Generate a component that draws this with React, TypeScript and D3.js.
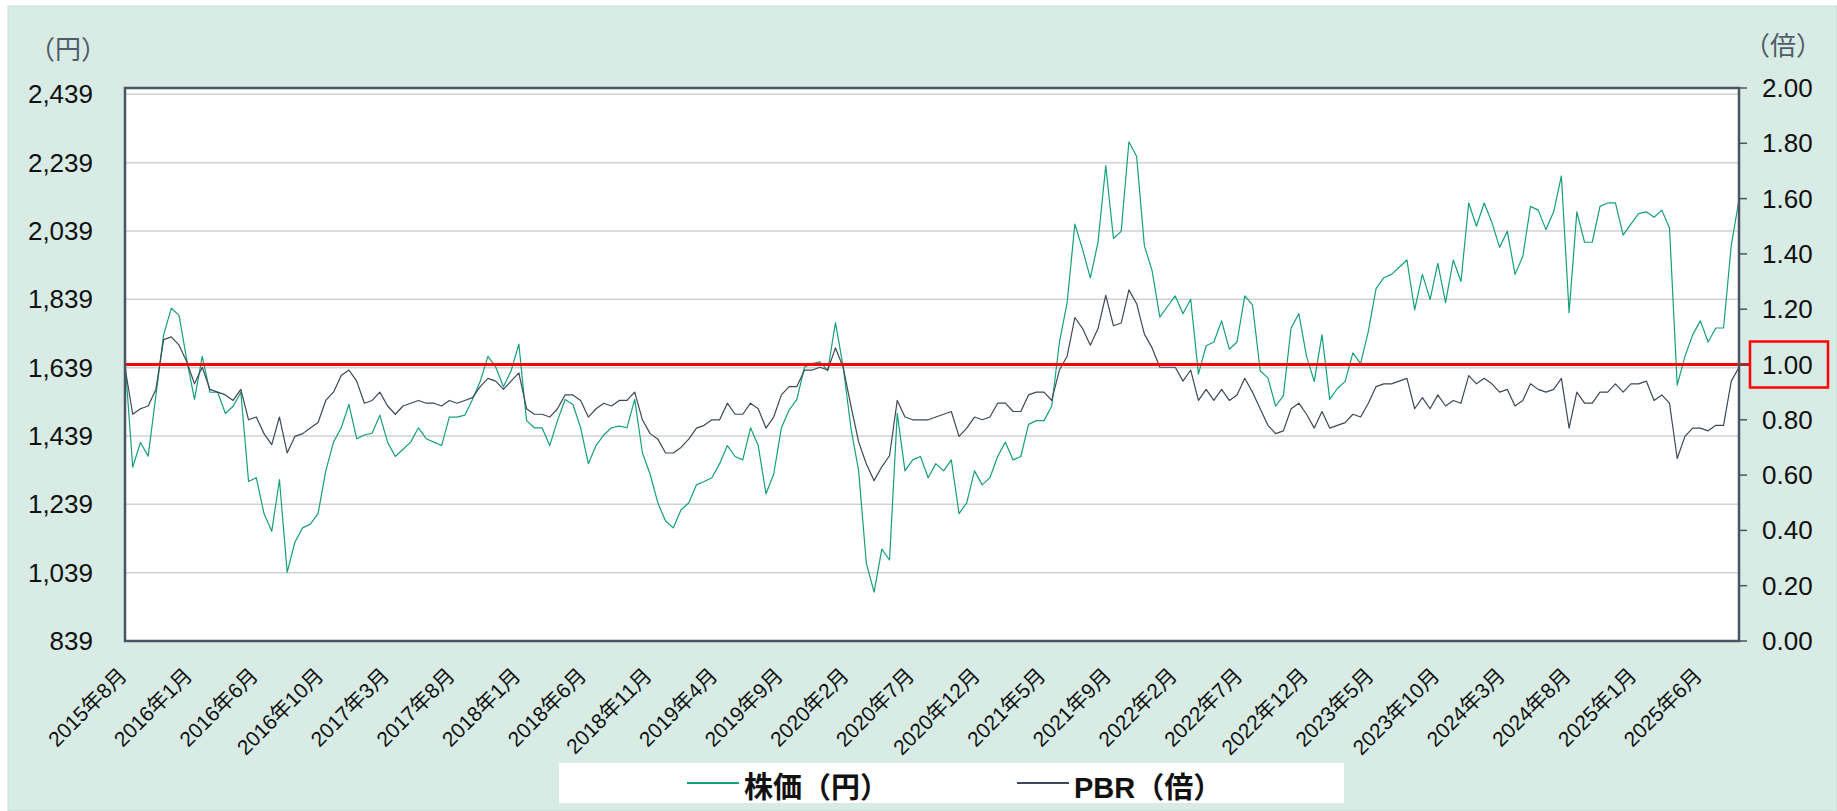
import React, { useEffect, useRef } from "react";
import * as d3 from "d3";

// 12営業日ごとのサンプル（2015年8月〜2025年10月）
const DAY_STEP = 12;
const LABEL_EVERY = 102;

const xLabels = [
  "2015年8月", "2016年1月", "2016年6月", "2016年10月", "2017年3月", "2017年8月",
  "2018年1月", "2018年6月", "2018年11月", "2019年4月", "2019年9月", "2020年2月",
  "2020年7月", "2020年12月", "2021年5月", "2021年9月", "2022年2月", "2022年7月",
  "2022年12月", "2023年5月", "2023年10月", "2024年3月", "2024年8月", "2025年1月",
  "2025年6月",
];

// 株価（円）
const price = [
  1660, 1348, 1420, 1380, 1557, 1735, 1813, 1792, 1661, 1546,
  1672, 1567, 1567, 1505, 1526, 1567, 1306, 1317, 1212, 1160,
  1311, 1040, 1128, 1170, 1181, 1212, 1337, 1421, 1463, 1531,
  1431, 1442, 1447, 1500, 1421, 1379, 1400, 1421, 1463, 1431,
  1421, 1411, 1494, 1494, 1500, 1546, 1599, 1672, 1641, 1583,
  1630, 1708, 1484, 1463, 1463, 1411, 1484, 1546, 1531, 1463,
  1358, 1411, 1442, 1463, 1468, 1463, 1546, 1390, 1327, 1243,
  1190, 1170, 1223, 1243, 1296, 1306, 1317, 1358, 1411, 1379,
  1369, 1463, 1411, 1270, 1327, 1463, 1515, 1546, 1641, 1651,
  1656, 1630, 1771, 1641, 1463, 1337, 1066, 982, 1108, 1076,
  1505, 1337, 1369, 1379, 1317, 1358, 1337, 1369, 1212, 1243,
  1337, 1296, 1317, 1379, 1421, 1369, 1379, 1473, 1484, 1484,
  1526, 1714, 1829, 2059, 1985, 1902, 2006, 2230, 2017, 2038,
  2300, 2257, 1996, 1923, 1787, 1818, 1849, 1797, 1839, 1620,
  1703, 1714, 1776, 1693, 1714, 1849, 1823, 1630, 1609, 1526,
  1557, 1755, 1797, 1672, 1599, 1735, 1546, 1578, 1599, 1682,
  1651, 1745, 1870, 1902, 1912, 1933, 1954, 1808, 1912, 1839,
  1944, 1829, 1954, 1891, 2121, 2053, 2121, 2064, 1991, 2038,
  1912, 1964, 2111, 2100, 2043, 2095, 2200, 1800, 2095, 2006,
  2006, 2111, 2121, 2121, 2027, 2059, 2090, 2095, 2079, 2100,
  2048, 1588, 1672, 1735, 1776, 1714, 1755, 1755, 1997, 2130,
];

// PBR（倍）
const pbr = [
  0.99, 0.82, 0.84, 0.85, 0.91, 1.09, 1.10, 1.07, 1.01, 0.93,
  0.99, 0.91, 0.90, 0.89, 0.87, 0.91, 0.80, 0.81, 0.75, 0.71,
  0.81, 0.68, 0.74, 0.75, 0.77, 0.79, 0.87, 0.90, 0.96, 0.98,
  0.94, 0.86, 0.87, 0.90, 0.85, 0.82, 0.85, 0.86, 0.87, 0.86,
  0.86, 0.85, 0.87, 0.86, 0.87, 0.88, 0.92, 0.95, 0.94, 0.91,
  0.94, 0.97, 0.84, 0.82, 0.82, 0.81, 0.84, 0.89, 0.89, 0.87,
  0.81, 0.84, 0.86, 0.85, 0.87, 0.87, 0.90, 0.80, 0.75, 0.73,
  0.68, 0.68, 0.70, 0.73, 0.77, 0.78, 0.80, 0.80, 0.86, 0.82,
  0.82, 0.86, 0.84, 0.77, 0.81, 0.89, 0.92, 0.92, 0.98, 0.98,
  0.99, 0.98, 1.06, 0.99, 0.85, 0.72, 0.64, 0.58, 0.63, 0.67,
  0.87, 0.81, 0.80, 0.80, 0.80, 0.81, 0.82, 0.83, 0.74, 0.77,
  0.81, 0.80, 0.81, 0.86, 0.86, 0.83, 0.83, 0.89, 0.90, 0.90,
  0.87, 0.98, 1.03, 1.17, 1.13, 1.07, 1.13, 1.25, 1.14, 1.15,
  1.27, 1.22, 1.11, 1.06, 0.99, 0.99, 0.99, 0.94, 0.98, 0.87,
  0.91, 0.87, 0.91, 0.87, 0.89, 0.95, 0.90, 0.84, 0.78, 0.75,
  0.76, 0.84, 0.86, 0.82, 0.77, 0.83, 0.77, 0.78, 0.79, 0.82,
  0.81, 0.86, 0.92, 0.93, 0.93, 0.94, 0.95, 0.84, 0.88, 0.84,
  0.89, 0.85, 0.87, 0.86, 0.96, 0.93, 0.95, 0.93, 0.90, 0.91,
  0.85, 0.87, 0.93, 0.91, 0.90, 0.91, 0.95, 0.77, 0.90, 0.86,
  0.86, 0.90, 0.90, 0.93, 0.90, 0.93, 0.93, 0.94, 0.87, 0.89,
  0.86, 0.66, 0.74, 0.77, 0.77, 0.76, 0.78, 0.78, 0.94, 0.99,
];

const yenTicks = [839, 1039, 1239, 1439, 1639, 1839, 2039, 2239, 2439];
const pbrTicks = [0, 0.2, 0.4, 0.6, 0.8, 1.0, 1.2, 1.4, 1.6, 1.8, 2.0];
const pbrMarker = 1.0;

const W = 1837;
const H = 811;
const FONT = "'Liberation Sans', Arial, 'Noto Sans CJK JP', sans-serif";
const GREEN = "#14a07a";
const SLATE = "#3d4858";

export default function App() {
  const svgRef = useRef<SVGSVGElement>(null);

  useEffect(() => {
    const svg = d3.select(svgRef.current);
    svg.selectAll("*").remove();

    const left = 125, right = 1739, top = 88, bottom = 641;
    const lastDay = (price.length - 1) * DAY_STEP;

    const x = d3.scaleLinear().domain([0, lastDay]).range([left, right]);
    const yYen = d3.scaleLinear().domain([839, 2439]).range([bottom, 94.3]);
    const yPbr = d3.scaleLinear().domain([0, 2]).range([bottom, top]);

    // 背景パネル
    svg.append("rect")
      .attr("x", 8).attr("y", 6).attr("width", W - 8).attr("height", H - 6)
      .attr("fill", "#d8ece5").attr("stroke", "#c9dbd5");

    svg.append("rect")
      .attr("x", left).attr("y", top).attr("width", right - left).attr("height", bottom - top)
      .attr("fill", "#fff");

    // グリッド
    svg.append("g").selectAll("line")
      .data(yenTicks)
      .join("line")
      .attr("x1", left).attr("x2", right)
      .attr("y1", d => yYen(d)).attr("y2", d => yYen(d))
      .attr("stroke", "#d2d2d2").attr("stroke-width", 1.5);

    const linePrice = d3.line<number>()
      .x((_, i) => x(i * DAY_STEP))
      .y(d => yYen(d));
    const linePbr = d3.line<number>()
      .x((_, i) => x(i * DAY_STEP))
      .y(d => yPbr(d));

    svg.append("path").datum(price)
      .attr("d", linePrice).attr("fill", "none")
      .attr("stroke", GREEN).attr("stroke-width", 1.2).attr("stroke-linejoin", "round");
    svg.append("path").datum(pbr)
      .attr("d", linePbr).attr("fill", "none")
      .attr("stroke", SLATE).attr("stroke-width", 1.2).attr("stroke-linejoin", "round");

    // PBR 1.00倍ライン
    const yMark = yPbr(pbrMarker);
    svg.append("line")
      .attr("x1", left).attr("x2", 1750).attr("y1", yMark).attr("y2", yMark)
      .attr("stroke", "#ff0000").attr("stroke-width", 3);
    svg.append("rect")
      .attr("x", 1750).attr("y", yMark - 23).attr("width", 78).attr("height", 46)
      .attr("fill", "none").attr("stroke", "#ff0000").attr("stroke-width", 2.5);

    // 枠
    svg.append("rect")
      .attr("x", left).attr("y", top).attr("width", right - left).attr("height", bottom - top)
      .attr("fill", "none").attr("stroke", "#4a5562").attr("stroke-width", 2.5);

    // 右軸の目盛り
    svg.append("g").selectAll("line")
      .data(pbrTicks)
      .join("line")
      .attr("x1", right).attr("x2", right + 8)
      .attr("y1", d => yPbr(d)).attr("y2", d => yPbr(d))
      .attr("stroke", "#4a5562").attr("stroke-width", 1.5);

    // 軸ラベル
    svg.append("g").selectAll("text")
      .data(yenTicks)
      .join("text")
      .attr("x", 93).attr("y", d => yYen(d))
      .attr("text-anchor", "end").attr("dominant-baseline", "central")
      .attr("font-family", FONT).attr("font-size", 26).attr("fill", "#111")
      .text(d => d3.format(",")(d));

    svg.append("g").selectAll("text")
      .data(pbrTicks)
      .join("text")
      .attr("x", 1762).attr("y", d => yPbr(d))
      .attr("dominant-baseline", "central")
      .attr("font-family", FONT).attr("font-size", 26).attr("fill", "#111")
      .text(d => d3.format(".2f")(d));

    svg.append("text")
      .attr("x", 107).attr("y", 59).attr("text-anchor", "end")
      .attr("font-family", FONT).attr("font-size", 26).attr("fill", "#505b68")
      .text("（円）");
    svg.append("text")
      .attr("x", 1744).attr("y", 55)
      .attr("font-family", FONT).attr("font-size", 26).attr("fill", "#505b68")
      .text("（倍）");

    svg.append("g").selectAll("text")
      .data(xLabels)
      .join("text")
      .attr("transform", (_, i) => `translate(${x(i * LABEL_EVERY) + 3},677) rotate(-45)`)
      .attr("text-anchor", "end")
      .attr("font-family", FONT).attr("font-size", 21).attr("fill", "#111")
      .text(d => d);

    // 凡例
    const legend = svg.append("g");
    legend.append("rect")
      .attr("x", 559).attr("y", 763).attr("width", 785).attr("height", 40)
      .attr("fill", "#fff");
    const items = [
      { label: "株価（円）", color: GREEN, x0: 687 },
      { label: "PBR（倍）", color: SLATE, x0: 1017 },
    ];
    items.forEach(it => {
      legend.append("line")
        .attr("x1", it.x0).attr("x2", it.x0 + 52).attr("y1", 783).attr("y2", 783)
        .attr("stroke", it.color).attr("stroke-width", 2);
      legend.append("text")
        .attr("x", it.x0 + 57).attr("y", 798)
        .attr("font-family", FONT).attr("font-size", 29).attr("font-weight", "bold")
        .attr("fill", "#111")
        .text(it.label);
    });
  }, []);

  return (
    <svg
      ref={svgRef}
      width={W}
      height={H}
      style={{ position: "absolute", left: 0, top: 0, background: "#fff" }}
    />
  );
}
